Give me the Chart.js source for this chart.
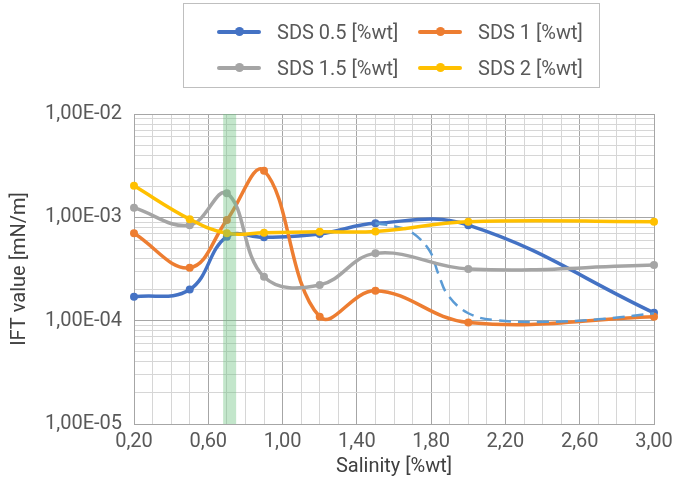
<!DOCTYPE html>
<html lang="en">
<head>
<meta charset="UTF-8">
<title>IFT value vs Salinity</title>
<script src="https://cdn.jsdelivr.net/npm/chart.js"></script>
<style>
  body { margin: 0; background: #fff; }
  .wrap { position: relative; width: 675px; height: 482px; }
  #legend {
    position: absolute; left: 183px; top: 3px; width: 417px; height: 85px;
    border: 1px solid #bfbfbf; box-sizing: border-box;
    font: 20px Roboto, sans-serif; color: #595959;
  }
  .item { position: absolute; display: flex; align-items: center; height: 24px; white-space: nowrap; }
  .swatch { position: relative; width: 44px; height: 4px; border-radius: 2px; margin-right: 16px; }
  .swatch i { position: absolute; left: 18px; top: -3px; width: 9px; height: 9px; border-radius: 50%; background: inherit; }
</style>
</head>
<body>
<div class="wrap">
  <canvas id="iftChart" width="675" height="482"></canvas>
  <div id="legend"></div>
</div>
<script>
// salinity [%wt] of the measured points
const salinity = [0.2, 0.5, 0.7, 0.9, 1.2, 1.5, 2.0, 3.0];

// IFT [mN/m] for each SDS concentration
const sds05 = [1.70e-4, 2.00e-4, 6.5e-4, 6.4e-4, 6.9e-4, 8.75e-4, 8.4e-4, 1.19e-4];
const sds1  = [7.0e-4, 3.25e-4, 9.4e-4, 2.83e-3, 1.09e-4, 1.95e-4, 9.6e-5, 1.09e-4];
const sds15 = [1.24e-3, 8.4e-4, 1.71e-3, 2.66e-4, 2.21e-4, 4.48e-4, 3.16e-4, 3.45e-4];
const sds2  = [2.02e-3, 9.6e-4, 7.0e-4, 7.1e-4, 7.26e-4, 7.3e-4, 9.07e-4, 9.07e-4];

// alternative trend for SDS 0.5 (dashed)
const trendSalinity = [1.5, 1.6, 1.69, 1.79, 1.84, 1.89, 2.0, 2.15, 2.42, 2.7, 3.0];
const trendIft = [8.75e-4, 8.2e-4, 7.26e-4, 4.8e-4, 2.8e-4, 1.77e-4, 1.18e-4, 1.01e-4, 9.75e-5, 1.03e-4, 1.18e-4];

const seriesNames = ['SDS 0.5 [%wt]', 'SDS 1 [%wt]', 'SDS 1.5 [%wt]', 'SDS 2 [%wt]'];
const seriesColors = ['#4472C4', '#ED7D31', '#A5A5A5', '#FFC000'];

// axis ticks
const xTickLabels = ['0,20', '0,60', '1,00', '1,40', '1,80', '2,20', '2,60', '3,00'];
const yDecades = [-5, -4, -3, -2];

// highlighted salinity window
const greenBand = [0.68, 0.75];

const pairs = (xs, ys) => xs.map((x, i) => ({ x, y: ys[i] }));
const isDecade = v => Math.abs(Math.log10(v) - Math.round(Math.log10(v))) < 1e-9;

Chart.defaults.font.family = 'Roboto, sans-serif';
Chart.defaults.font.size = 20;
Chart.defaults.color = '#595959';

function series(i, values) {
  return {
    label: seriesNames[i],
    data: pairs(salinity, values),
    borderColor: seriesColors[i],
    backgroundColor: seriesColors[i],
    borderWidth: 3.5,
    pointRadius: 4,
    pointBorderWidth: 0,
    tension: 0.4,
    clip: false
  };
}

const bandPlugin = {
  id: 'band',
  afterDatasetsDraw(chart) {
    const { ctx, chartArea, scales } = chart;
    const l = scales.x.getPixelForValue(greenBand[0]);
    const r = scales.x.getPixelForValue(greenBand[1]);
    ctx.save();
    ctx.fillStyle = 'rgba(105,192,125,0.4)';
    ctx.fillRect(l, chartArea.top, r - l, chartArea.bottom - chartArea.top);
    ctx.restore();
  }
};

const chart = new Chart(document.getElementById('iftChart'), {
  type: 'line',
  data: {
    // first dataset is drawn on top
    datasets: [
      series(3, sds2),
      series(2, sds15),
      {
        label: 'trend',
        data: pairs(trendSalinity, trendIft),
        borderColor: '#5B9BD5',
        borderWidth: 2.5,
        borderDash: [12, 7],
        pointRadius: 0,
        tension: 0.4,
        clip: false
      },
      series(1, sds1),
      series(0, sds05)
    ]
  },
  options: {
    responsive: false,
    animation: false,
    layout: { padding: { top: 114, right: 21, left: 0, bottom: 0 } },
    plugins: { legend: { display: false }, tooltip: { enabled: false } },
    scales: {
      x: {
        type: 'linear',
        min: 0.2,
        max: 3.0,
        afterBuildTicks: scale => {
          const ticks = [];
          for (let i = 0; i <= 28; i++) ticks.push({ value: Math.round((0.2 + i * 0.1) * 10) / 10 });
          scale.ticks = ticks;
        },
        afterFit: scale => {
          scale.height = 58;
          scale.paddingLeft = 0;
          scale.paddingRight = 0;
        },
        ticks: {
          autoSkip: false,
          maxRotation: 0,
          padding: 6,
          callback: (value, index) => index % 4 === 0 ? xTickLabels[index / 4] : ''
        },
        grid: {
          drawTicks: false,
          color: ctx => ctx.tick && ctx.index % 4 === 0 ? '#a6a6a6' : '#d6d6d6'
        },
        border: { color: '#a6a6a6' },
        title: { display: true, text: 'Salinity [%wt]', color: '#404040', padding: { top: 0, bottom: 3 } }
      },
      y: {
        type: 'logarithmic',
        min: 1e-5,
        max: 1e-2,
        afterBuildTicks: scale => {
          const ticks = [];
          yDecades.forEach(e => {
            for (let m = 1; m <= 9; m++) {
              const v = m * Math.pow(10, e);
              if (v <= 1e-2 * 1.0000001) ticks.push({ value: v });
            }
          });
          scale.ticks = ticks;
        },
        afterFit: scale => { scale.width = 134; },
        ticks: {
          autoSkip: false,
          padding: 12,
          callback: value => {
            if (!isDecade(value)) return '';
            const e = Math.round(Math.log10(value));
            return '1,00E' + (e < 0 ? '-' : '+') + String(Math.abs(e)).padStart(2, '0');
          }
        },
        grid: {
          drawTicks: false,
          color: ctx => ctx.tick && isDecade(ctx.tick.value) ? '#a6a6a6' : '#d6d6d6'
        },
        border: { color: '#a6a6a6' },
        title: { display: true, text: 'IFT value [mN/m]', color: '#404040', padding: { top: 8, bottom: 0 } }
      }
    }
  },
  plugins: [bandPlugin]
});

// legend: two rows, two columns
const legend = document.getElementById('legend');
const slots = [[33, 16], [234, 16], [33, 52], [234, 52]];
seriesNames.forEach((name, i) => {
  const item = document.createElement('div');
  item.className = 'item';
  item.style.left = slots[i][0] + 'px';
  item.style.top = slots[i][1] + 'px';
  item.innerHTML = '<span class="swatch" style="background:' + seriesColors[i] + '"><i></i></span>' + name;
  legend.appendChild(item);
});
</script>
</body>
</html>
